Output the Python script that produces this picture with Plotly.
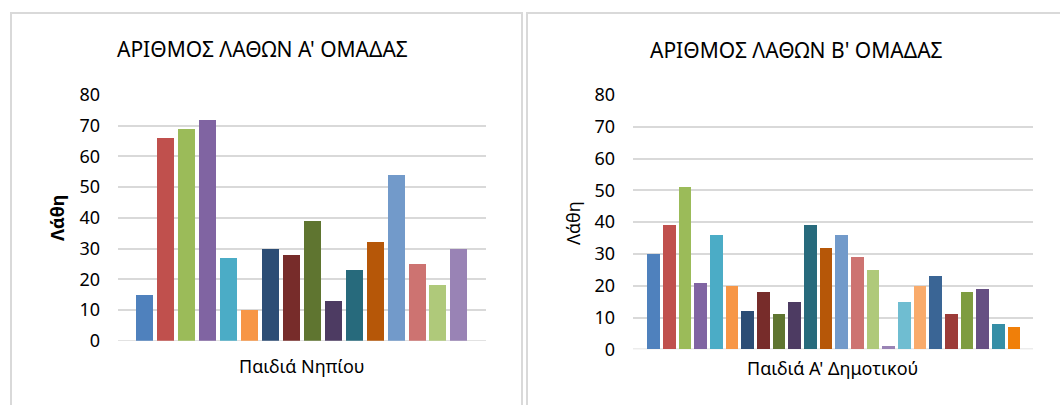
import plotly.graph_objects as go

# Errors per child, group A (kindergarten) and group B (first grade)
errors_a = [15, 66, 69, 72, 27, 10, 30, 28, 39, 13, 23, 32, 54, 25, 18, 30]
errors_b = [30, 39, 51, 21, 36, 20, 12, 18, 11, 15, 39, 32, 36, 29, 25, 1,
            15, 20, 23, 11, 18, 19, 8, 7]

title_a = "ΑΡΙΘΜΟΣ ΛΑΘΩΝ Α' ΟΜΑΔΑΣ"
title_b = "ΑΡΙΘΜΟΣ ΛΑΘΩΝ Β' ΟΜΑΔΑΣ"
xlabel_a = "Παιδιά Νηπίου"
xlabel_b = "Παιδιά Α' Δημοτικού"
ylabel = "Λάθη"
y_ticks = [0, 10, 20, 30, 40, 50, 60, 70, 80]

# Office-style series colour cycle
palette = [
    "#4F81BD", "#C0504D", "#9BBB59", "#8064A2", "#4BACC6", "#F79646",
    "#2C4D75", "#772C2A", "#5F7530", "#4D3B62", "#276A7C", "#B65708",
    "#729ACA", "#CD7371", "#AFC97A", "#9983B5", "#6FBDD1", "#F9AB6B",
    "#3A6595", "#9C3B38", "#7E9C40", "#664F83", "#358EA6", "#F07F09",
]

FONT = "Noto Sans"
TXT = "#000000"
GRID = "#D9D9D9"
W, H = 1060, 405

fig = go.Figure()

fig.add_trace(go.Bar(
    x=list(range(len(errors_a))), y=errors_a,
    marker=dict(color=palette[:len(errors_a)], line=dict(width=0)),
    width=0.81, xaxis="x", yaxis="y", showlegend=False,
))
fig.add_trace(go.Bar(
    x=list(range(len(errors_b))), y=errors_b,
    marker=dict(color=palette[:len(errors_b)], line=dict(width=0)),
    width=0.81, xaxis="x2", yaxis="y2", showlegend=False,
))


def px_x(v):
    return v / W


def px_y(v):
    return 1 - v / H


yaxis_common = dict(
    range=[0, 80], tickvals=y_ticks, showgrid=True, gridcolor=GRID,
    gridwidth=1.5, zeroline=False, showline=False, ticks="",
    ticklabelstandoff=17, automargin=False,
    tickfont=dict(family=FONT, size=18, color=TXT), fixedrange=True,
)
xaxis_common = dict(
    showticklabels=False, showgrid=False, zeroline=False, showline=False,
    ticks="", fixedrange=True, automargin=False,
)

fig.update_layout(
    width=W, height=H, autosize=False,
    margin=dict(l=0, r=0, t=0, b=0, pad=0, autoexpand=False),
    paper_bgcolor="white", plot_bgcolor="white",
    bargap=0, showlegend=False,
    xaxis=dict(domain=[px_x(118), px_x(486)], range=[-1.26, 16.29],
               anchor="y", **xaxis_common),
    yaxis=dict(domain=[px_y(340.7), px_y(95)], anchor="x", **yaxis_common),
    xaxis2=dict(domain=[px_x(633), px_x(1033)], range=[-1.32, 24.21],
                anchor="y2", **xaxis_common),
    yaxis2=dict(domain=[px_y(349.3), px_y(95)], anchor="x2", **yaxis_common),
)

# Baseline gridline at zero on both charts
for xa, ya in (("x", "y"), ("x2", "y2")):
    fig.add_shape(type="line", xref=f"{xa} domain", yref=ya,
                  x0=0, x1=1, y0=0, y1=0,
                  line=dict(color=GRID, width=1.5), layer="below")

# Chart frames
fig.add_shape(type="rect", xref="paper", yref="paper",
              x0=px_x(11), x1=px_x(522), y0=px_y(420), y1=px_y(13),
              line=dict(color=GRID, width=2), layer="below")
fig.add_shape(type="rect", xref="paper", yref="paper",
              x0=px_x(527), x1=px_x(1075), y0=px_y(420), y1=px_y(13),
              line=dict(color=GRID, width=2), layer="below")

annotations = [
    dict(text=title_a, x=px_x(262), y=px_y(49), size=21, bold=False, angle=0),
    dict(text=title_b, x=px_x(796), y=px_y(50), size=21, bold=False, angle=0),
    dict(text=xlabel_a, x=px_x(302), y=px_y(366), size=18, bold=False, angle=0),
    dict(text=xlabel_b, x=px_x(832), y=px_y(368), size=18, bold=False, angle=0),
    dict(text=ylabel, x=px_x(57), y=px_y(218), size=18, bold=True, angle=-90),
    dict(text=ylabel, x=px_x(573), y=px_y(223), size=18, bold=False, angle=-90),
]
for a in annotations:
    txt = f"<b>{a['text']}</b>" if a["bold"] else a["text"]
    fig.add_annotation(
        text=txt, x=a["x"], y=a["y"], xref="paper", yref="paper",
        xanchor="center", yanchor="middle", showarrow=False,
        textangle=a["angle"], font=dict(family=FONT, size=a["size"], color=TXT),
    )

fig.write_html("out.html")
